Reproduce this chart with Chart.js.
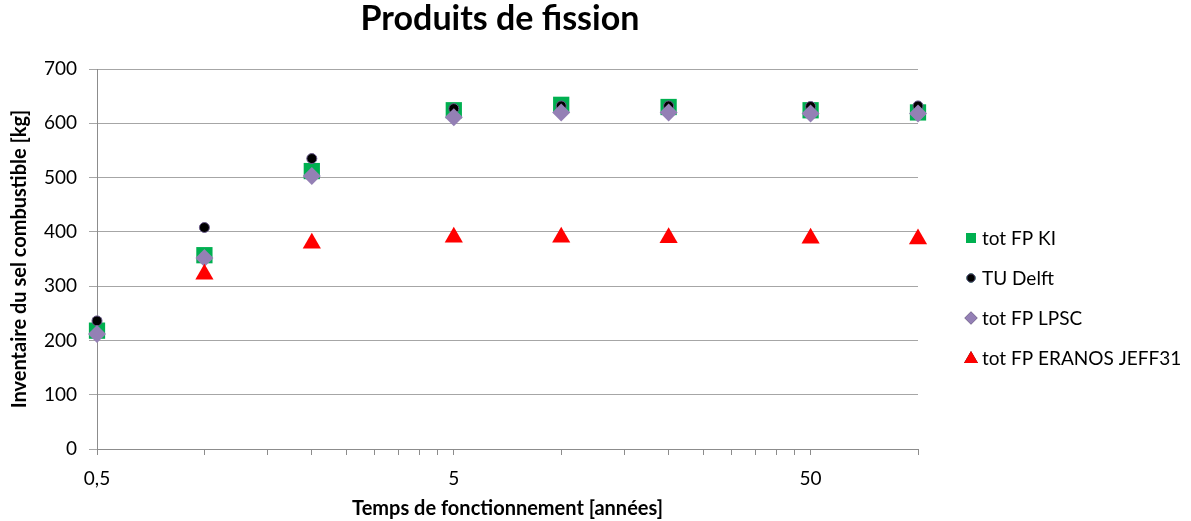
<!DOCTYPE html>
<html>
<head>
<meta charset="utf-8">
<script src="https://cdn.jsdelivr.net/npm/chart.js@4/dist/chart.umd.min.js"></script>
<style>
  html, body { margin: 0; padding: 0; background: #fff; }
  #wrap { width: 1191px; height: 521px; }
</style>
</head>
<body>
<div id="wrap"><canvas id="fpChart" width="1191" height="521"></canvas></div>
<script>
// years of operation (log axis)
const years = [0.5, 1, 2, 5, 10, 20, 50, 100];
const kiValues = [218, 357, 512, 624, 634, 630, 624, 620];
const delftValues = [236, 408, 535, 627, 632, 632, 631, 632];
const lpscValues = [212, 352, 503, 611, 620, 620, 618, 618];
const eranosValues = [null, 322, 379, 390, 390, 389, 388, 387];

const xLabelTicks = [0.5, 5, 50];
const xMinorTicks = [0.5, 1, 1.5, 2, 2.5, 3, 3.5, 4, 4.5, 5, 10, 15, 20, 25, 30, 35, 40, 45, 50, 100];
const yTicks = [0, 100, 200, 300, 400, 500, 600, 700];

const font = 'Lato, "Liberation Sans", sans-serif';

function points(values) {
    return years.map((x, i) => ({ x: x, y: values[i] })).filter(p => p.y !== null);
}

// title, offset left of the canvas centre like the original
const titlePlugin = {
    id: 'fpTitle',
    afterDraw(chart) {
        const ctx = chart.ctx;
        ctx.save();
        ctx.font = 'bold 34px ' + font;
        ctx.fillStyle = '#000';
        ctx.textAlign = 'center';
        ctx.textBaseline = 'alphabetic';
        ctx.fillText('Produits de fission', 500, 30);
        ctx.restore();
    }
};

// legend drawn on the right, one row every 40px
const legendPlugin = {
    id: 'fpLegend',
    afterDraw(chart) {
        const ctx = chart.ctx;
        const sizes = [7.1, 4.2, 6.5, 8];
        ctx.save();
        chart.data.datasets.forEach((ds, i) => {
            const y = 238 + i * 40;
            Chart.helpers.drawPoint(ctx, {
                pointStyle: ds.pointStyle,
                radius: sizes[i],
                borderWidth: ds.borderWidth
            }, 971, y + (ds.pointStyle === 'triangle' ? 1 : 0));
            ctx.fillStyle = ds.backgroundColor;
            ctx.strokeStyle = ds.borderColor;
            ctx.lineWidth = ds.borderWidth;
            ctx.fill();
            if (ds.borderWidth) ctx.stroke();
            ctx.font = '19px ' + font;
            ctx.fillStyle = '#000';
            ctx.textAlign = 'left';
            ctx.textBaseline = 'middle';
            ctx.fillText(ds.label, 982, y + 1);
        });
        ctx.restore();
    }
};

new Chart(document.getElementById('fpChart'), {
    type: 'scatter',
    data: {
        datasets: [
            {
                label: 'tot FP KI',
                data: points(kiValues),
                pointStyle: 'rect',
                pointRadius: 11.5,
                backgroundColor: '#00b050',
                borderColor: '#00b050',
                borderWidth: 0,
                clip: false,
                order: 4
            },
            {
                label: 'TU Delft',
                data: points(delftValues),
                pointStyle: 'circle',
                pointRadius: 5,
                backgroundColor: '#000000',
                borderColor: '#6b5b8c',
                borderWidth: 1,
                clip: false,
                order: 3
            },
            {
                label: 'tot FP LPSC',
                data: points(lpscValues),
                pointStyle: 'rectRot',
                pointRadius: 9,
                backgroundColor: '#9480b5',
                borderColor: '#9480b5',
                borderWidth: 0,
                clip: false,
                order: 2
            },
            {
                label: 'tot FP ERANOS JEFF31',
                data: points(eranosValues),
                pointStyle: 'triangle',
                pointRadius: 10.5,
                backgroundColor: '#ff0000',
                borderColor: '#ff0000',
                borderWidth: 0,
                clip: false,
                order: 1
            }
        ]
    },
    options: {
        responsive: false,
        animation: false,
        layout: { padding: { top: 69, right: 273, bottom: 0, left: 0 } },
        plugins: {
            title: { display: false },
            tooltip: { enabled: false },
            legend: { display: false }
        },
        scales: {
            x: {
                type: 'logarithmic',
                min: 0.5,
                max: 100,
                afterBuildTicks: axis => {
                    axis.ticks = xMinorTicks.map(v => ({ value: v, major: xLabelTicks.includes(v) }));
                },
                afterFit: axis => { axis.height = 72; },
                ticks: {
                    autoSkip: false,
                    maxRotation: 0,
                    color: '#000',
                    font: { family: font, size: 19 },
                    padding: 12,
                    callback: function(value) {
                        return xLabelTicks.includes(value) ? String(value).replace('.', ',') : '';
                    }
                },
                grid: {
                    drawOnChartArea: false,
                    drawTicks: true,
                    tickLength: 6,
                    color: '#8c8c8c'
                },
                border: { color: '#8c8c8c' },
                title: {
                    display: true,
                    text: 'Temps de fonctionnement [années]',
                    color: '#000',
                    font: { family: font, size: 20, weight: 'bold' },
                    padding: { top: 0, bottom: 0 }
                }
            },
            y: {
                min: 0,
                max: 700,
                afterBuildTicks: axis => {
                    axis.ticks = yTicks.map(v => ({ value: v }));
                },
                afterFit: axis => { axis.width = 97; },
                ticks: {
                    color: '#000',
                    font: { family: font, size: 19 },
                    padding: 12
                },
                grid: {
                    color: '#a6a6a6',
                    tickLength: 8
                },
                border: { color: '#8c8c8c' },
                title: {
                    display: true,
                    text: 'Inventaire du sel combustible [kg]',
                    color: '#000',
                    font: { family: font, size: 20, weight: 'bold' },
                    padding: { top: 8, bottom: 0 }
                }
            }
        }
    },
    plugins: [titlePlugin, legendPlugin]
});
</script>
</body>
</html>
